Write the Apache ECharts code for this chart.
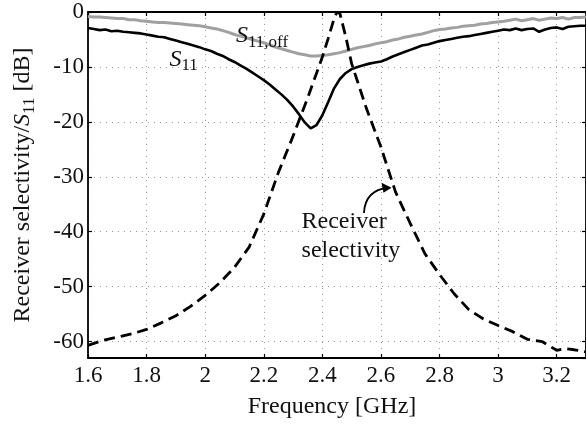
<!DOCTYPE html>
<html>
<head>
<meta charset="utf-8">
<script src="https://cdn.jsdelivr.net/npm/echarts@6/dist/echarts.min.js"></script>
<style>
  html, body { margin: 0; padding: 0; background: #fff; }
  #chart { width: 586px; height: 424px; }
</style>
</head>
<body>
<div id="chart"></div>
<script>
const FONT = 'Liberation Serif';

// measured S11 and S11,off share one frequency grid (GHz)
const freqS11 = [
  1.60, 1.62, 1.64, 1.66, 1.68, 1.70, 1.72, 1.74, 1.76, 1.78,
  1.80, 1.82, 1.84, 1.86, 1.88, 1.90, 1.92, 1.94, 1.96, 1.98,
  2.00, 2.02, 2.04, 2.06, 2.08, 2.10, 2.12, 2.14, 2.16, 2.18,
  2.20, 2.22, 2.24, 2.26, 2.28, 2.30, 2.32, 2.34, 2.36, 2.38,
  2.40, 2.42, 2.44, 2.46, 2.48, 2.50, 2.52, 2.54, 2.56, 2.58,
  2.60, 2.62, 2.64, 2.66, 2.68, 2.70, 2.72, 2.74, 2.76, 2.78,
  2.80, 2.82, 2.84, 2.86, 2.88, 2.90, 2.92, 2.94, 2.96, 2.98,
  3.00, 3.02, 3.04, 3.06, 3.08, 3.10, 3.12, 3.14, 3.16, 3.18,
  3.20, 3.22, 3.24, 3.26, 3.28, 3.30
];
const s11 = [
  -2.9, -3.1, -3.3, -3.2, -3.5, -3.4, -3.6, -3.7, -3.8, -3.9,
  -4.1, -4.3, -4.5, -4.6, -4.9, -5.2, -5.5, -5.8, -6.1, -6.4,
  -6.8, -7.1, -7.6, -8.0, -8.6, -9.1, -9.7, -10.3, -11.0, -11.7,
  -12.4, -13.2, -14.1, -15.0, -16.0, -17.2, -18.6, -20.1, -21.2, -20.6,
  -18.8, -16.4, -13.9, -12.2, -11.1, -10.4, -10.0, -9.7, -9.4, -9.2,
  -9.0, -8.6, -8.1, -7.7, -7.3, -6.9, -6.5, -6.1, -5.9, -5.6,
  -5.3, -5.1, -4.9, -4.7, -4.5, -4.4, -4.2, -4.0, -3.8, -3.6,
  -3.4, -3.2, -3.3, -3.0, -3.3, -3.1, -3.0, -3.6, -3.2, -2.9,
  -2.8, -3.1, -2.7, -2.6, -2.5, -2.5
];
const s11Off = [
  -0.8, -0.9, -0.9, -1.0, -1.1, -1.2, -1.2, -1.4, -1.4, -1.6,
  -1.7, -1.8, -1.9, -1.9, -2.0, -2.1, -2.2, -2.3, -2.4, -2.5,
  -2.7, -2.9, -3.1, -3.4, -3.7, -4.1, -4.4, -4.7, -5.0, -5.3,
  -5.6, -6.0, -6.4, -6.7, -7.0, -7.3, -7.6, -7.8, -8.0, -8.0,
  -7.9, -7.8, -7.6, -7.4, -7.1, -6.8, -6.5, -6.3, -6.1, -5.8,
  -5.6, -5.4, -5.1, -4.9, -4.6, -4.4, -4.2, -4.0, -3.7, -3.4,
  -3.2, -3.1, -2.9, -2.8, -2.6, -2.5, -2.4, -2.2, -2.1, -1.9,
  -1.8, -1.7, -1.5, -1.3, -1.6, -1.4, -1.2, -1.5, -1.3, -1.1,
  -1.2, -1.0, -1.3, -1.0, -1.0, -0.9
];

// receiver selectivity (dashed)
const freqSel = [
  1.60, 1.65, 1.70, 1.75, 1.80, 1.85, 1.90, 1.95, 2.00, 2.05,
  2.10, 2.15, 2.20, 2.25, 2.30, 2.35, 2.40, 2.42, 2.44, 2.45,
  2.46, 2.48, 2.50, 2.55, 2.60, 2.65, 2.70, 2.75, 2.80, 2.85,
  2.90, 2.95, 3.00, 3.05, 3.10, 3.15, 3.20, 3.23, 3.26, 3.30
];
const selectivity = [
  -60.7, -59.8, -59.2, -58.6, -57.8, -56.6, -55.3, -53.6, -51.6, -49.3,
  -46.5, -42.8, -36.8, -29.2, -22.6, -15.6, -8.2, -4.8, -1.2, 0.0,
  -0.3, -4.5, -9.4, -17.5, -24.6, -32.8, -38.5, -44.0, -47.8, -51.3,
  -54.2, -55.9, -57.1, -58.2, -59.6, -60.0, -61.6, -61.3, -61.5, -61.9
];

const xMin = 1.6, xMax = 3.3, xStep = 0.2;
const yMin = -63, yMax = 0;

const pairs = (xs, ys) => xs.map((x, i) => [x, ys[i]]);

const chart = echarts.init(document.getElementById('chart'));

const gridLine = { show: true, lineStyle: { color: '#9a9a9a', width: 1, type: [1, 5] } };
const frame = { show: true, onZero: false, lineStyle: { color: '#000', width: 1.8 } };
const tickIn = { show: true, inside: true, length: 4, lineStyle: { color: '#000', width: 1.2 } };

const option = {
  animation: false,
  backgroundColor: '#fff',
  grid: { left: 88, top: 12, width: 501.5, height: 348 },
  xAxis: [
    {
      type: 'value', min: xMin, max: xMax, interval: xStep,
      axisLine: frame, axisTick: tickIn, splitLine: gridLine,
      axisLabel: { fontFamily: FONT, fontSize: 23, color: '#111', margin: 6, showMaxLabel: false },
      name: 'Frequency [GHz]', nameLocation: 'middle', nameGap: 37,
      nameTextStyle: { fontFamily: FONT, fontSize: 24, color: '#111', padding: [0, 10, 0, 0] }
    },
    {
      type: 'value', position: 'top', min: xMin, max: xMax, interval: xStep,
      axisLine: frame, axisTick: tickIn, splitLine: { show: false },
      axisLabel: { show: false }
    }
  ],
  yAxis: [
    {
      type: 'value', min: yMin, max: yMax, splitNumber: 6, minInterval: 10, maxInterval: 10,
      axisLine: frame, axisTick: tickIn, splitLine: gridLine,
      axisLabel: { fontFamily: FONT, fontSize: 23, color: '#111', margin: 4, showMinLabel: false },
      name: '{n|Receiver selectivity/}{i|S}{s|11}{n| [dB]}',
      nameLocation: 'middle', nameGap: 50,
      nameTextStyle: {
        fontFamily: FONT, fontSize: 24, color: '#111',
        rich: {
          n: { fontFamily: FONT, fontSize: 24, color: '#111', lineHeight: 30, verticalAlign: 'middle' },
          i: { fontFamily: FONT, fontSize: 24, color: '#111', fontStyle: 'italic', lineHeight: 30, verticalAlign: 'middle' },
          s: { fontFamily: FONT, fontSize: 17, color: '#111', verticalAlign: 'bottom' }
        }
      }
    },
    {
      type: 'value', position: 'right', min: yMin, max: yMax, splitNumber: 6, minInterval: 10, maxInterval: 10,
      axisLine: frame, axisTick: tickIn, splitLine: { show: false },
      axisLabel: { show: false }
    }
  ],
  series: [
    {
      name: 'S11,off', type: 'line', data: pairs(freqS11, s11Off), symbol: 'none',
      lineStyle: { color: '#a0a0a0', width: 3 }
    },
    {
      name: 'S11', type: 'line', data: pairs(freqS11, s11), symbol: 'none',
      lineStyle: { color: '#000', width: 2.6 }
    },
    {
      name: 'Receiver selectivity', type: 'line', data: pairs(freqSel, selectivity), symbol: 'none',
      lineStyle: { color: '#000', width: 2.8, type: [11, 6] }
    }
  ]
};

chart.setOption(option);

// annotations, anchored in data coordinates
const px = (f, v) => chart.convertToPixel({ gridIndex: 0 }, [f, v]);
const subRich = {
  i: { fontFamily: FONT, fontSize: 24, fontStyle: 'italic', fill: '#111', lineHeight: 30, verticalAlign: 'middle' },
  s: { fontFamily: FONT, fontSize: 17, fill: '#111', verticalAlign: 'bottom' }
};
const labS11 = px(1.878, -8.6);
const labOff = px(2.105, -4.4);
const labRx = px(2.329, -40.9);
const arA = px(2.542, -36.6);
const arC = px(2.546, -32.4);
const arB = px(2.625, -32.0);
const arT = px(2.636, -32.0);

chart.setOption({
  graphic: [
    {
      type: 'text', x: labS11[0], y: labS11[1], z: 10,
      style: { text: '{i|S}{s|11}', rich: subRich, align: 'left', verticalAlign: 'middle' }
    },
    {
      type: 'text', x: labOff[0], y: labOff[1], z: 10,
      style: { text: '{i|S}{s|11,off}', rich: subRich, align: 'left', verticalAlign: 'middle' }
    },
    {
      type: 'text', x: labRx[0], y: labRx[1], z: 10,
      style: {
        text: 'Receiver\nselectivity', fontFamily: FONT, fontSize: 24, lineHeight: 29,
        fill: '#111', align: 'left', verticalAlign: 'middle'
      }
    },
    {
      type: 'bezierCurve', z: 10,
      shape: { x1: arA[0], y1: arA[1], x2: arB[0], y2: arB[1], cpx1: arC[0], cpy1: arC[1] },
      style: { stroke: '#000', lineWidth: 1.8, fill: null }
    },
    {
      type: 'polygon', z: 10,
      shape: { points: [[arT[0], arT[1]], [arT[0] - 10, arT[1] - 5], [arT[0] - 8, arT[1] + 5]] },
      style: { fill: '#000' }
    }
  ]
});

window.addEventListener('resize', () => chart.resize());
</script>
</body>
</html>
